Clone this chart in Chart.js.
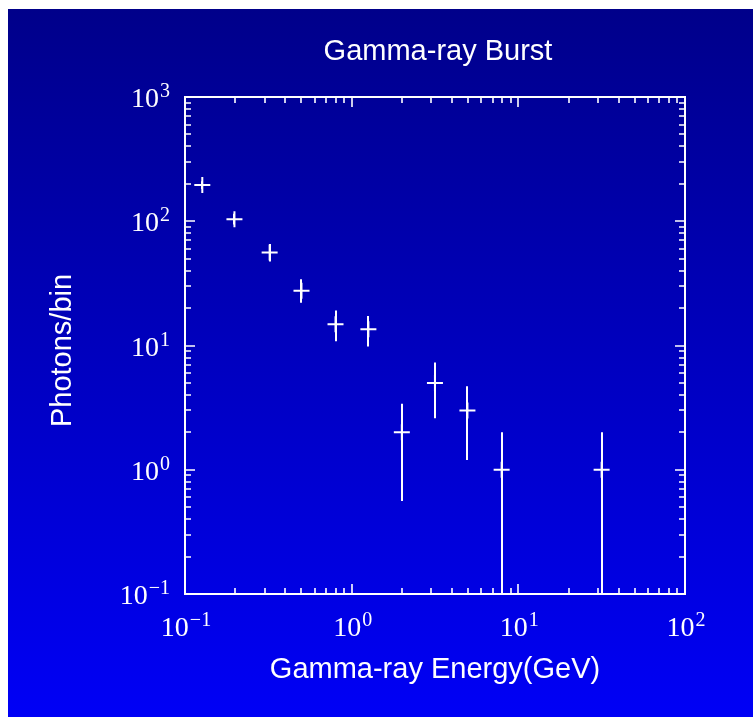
<!DOCTYPE html>
<html>
<head>
<meta charset="utf-8">
<title>Gamma-ray Burst</title>
<script src="https://cdn.jsdelivr.net/npm/chart.js@4.4.1/dist/chart.umd.min.js"></script>
<style>
  html, body { margin: 0; padding: 0; background: #ffffff; overflow: hidden; }
  canvas { display: block; }
</style>
</head>
<body>
<canvas id="c" width="753" height="717"></canvas>
<script>
// Photon counts per energy bin, with the lower / upper ends of each error bar
const energies = [0.127, 0.198, 0.322, 0.5, 0.8, 1.26, 2.0, 3.16, 4.95, 7.94, 31.6];
const photons  = [196, 104, 56, 27.6, 14.8, 13.5, 2.0, 5.0, 3.0, 1.0, 1.0];
const errLow   = [182, 94, 47.5, 22.1, 10.8, 9.8, 0.56, 2.6, 1.2, 0, 0];
const errHigh  = [210, 115, 65.5, 34.1, 19.1, 17.3, 3.4, 7.3, 4.7, 2.0, 2.0];

// Decade tick positions and their exponents (drawn as 10^n)
const xTickValues = [0.1, 1, 10, 100];
const xTickExponents = ['\u22121', '0', '1', '2'];
const yTickValues = [0.1, 1, 10, 100, 1000];
const yTickExponents = ['\u22121', '0', '1', '2', '3'];

const titleText = 'Gamma-ray Burst';
const xTitleText = 'Gamma-ray Energy(GeV)';
const yTitleText = 'Photons/bin';

const W = 753, H = 717;
const FG = '#ffffff';
const SANS = "'Liberation Sans', Arial, sans-serif";
const SERIF = "'Liberation Serif', 'Times New Roman', serif";

function minorValues(lo, hi) {
  const out = [];
  for (let d = lo; d < hi; d *= 10) {
    for (let k = 2; k <= 9; k++) out.push(d * k);
  }
  return out;
}

const backgroundPlugin = {
  id: 'background',
  beforeDraw(chart) {
    const ctx = chart.ctx;
    ctx.save();
    ctx.fillStyle = '#ffffff';
    ctx.fillRect(0, 0, W, H);
    const g = ctx.createLinearGradient(0, 9, 0, H);
    g.addColorStop(0, '#00008a');
    g.addColorStop(1, '#0000f6');
    ctx.fillStyle = g;
    ctx.fillRect(8, 9, W - 8, H - 9);
    ctx.restore();
  }
};

const errorBarPlugin = {
  id: 'errorBars',
  beforeDatasetsDraw(chart) {
    const { ctx, chartArea: a } = chart;
    const xs = chart.scales.x, ys = chart.scales.y;
    ctx.save();
    ctx.beginPath();
    ctx.rect(a.left, a.top, a.right - a.left, a.bottom - a.top);
    ctx.clip();
    ctx.strokeStyle = FG;
    ctx.lineWidth = 2;
    for (let i = 0; i < energies.length; i++) {
      const px = Math.round(xs.getPixelForValue(energies[i]));
      const lo = Math.max(errLow[i], ys.min * 0.5);
      const y1 = ys.getPixelForValue(lo);
      const y2 = ys.getPixelForValue(errHigh[i]);
      ctx.beginPath();
      ctx.moveTo(px, Math.min(y1, a.bottom + 2));
      ctx.lineTo(px, y2);
      ctx.stroke();
    }
    ctx.restore();
  }
};

function drawPower(ctx, exp, x, baseline, align) {
  const baseFont = '28px ' + SERIF;
  const supFont = '20px ' + SERIF;
  ctx.font = baseFont;
  const wb = ctx.measureText('10').width;
  ctx.font = supFont;
  const ws = ctx.measureText(exp).width;
  const total = wb + 1 + ws;
  let sx = align === 'center' ? x - total / 2 : x - total;
  ctx.textAlign = 'left';
  ctx.textBaseline = 'alphabetic';
  ctx.font = baseFont;
  ctx.fillText('10', sx, baseline);
  ctx.font = supFont;
  ctx.fillText(exp, sx + wb + 1, baseline - 10);
}

const framePlugin = {
  id: 'frame',
  afterDraw(chart) {
    const { ctx, chartArea: a } = chart;
    const xs = chart.scales.x, ys = chart.scales.y;
    const MAJ = 10, MIN = 6;
    ctx.save();
    ctx.strokeStyle = FG;
    ctx.fillStyle = FG;
    ctx.lineWidth = 2;
    ctx.strokeRect(a.left, a.top, a.right - a.left, a.bottom - a.top);

    ctx.lineWidth = 1.6;
    ctx.beginPath();
    // x ticks, bottom and mirrored on top, pointing inward
    const xMinor = minorValues(xs.min, xs.max);
    xTickValues.forEach(v => {
      const p = Math.round(xs.getPixelForValue(v));
      ctx.moveTo(p, a.bottom); ctx.lineTo(p, a.bottom - MAJ);
      ctx.moveTo(p, a.top); ctx.lineTo(p, a.top + MAJ);
    });
    xMinor.forEach(v => {
      const p = Math.round(xs.getPixelForValue(v));
      ctx.moveTo(p, a.bottom); ctx.lineTo(p, a.bottom - MIN);
      ctx.moveTo(p, a.top); ctx.lineTo(p, a.top + MIN);
    });
    // y ticks, left and mirrored on right
    const yMinor = minorValues(ys.min, ys.max);
    yTickValues.forEach(v => {
      const p = Math.round(ys.getPixelForValue(v));
      ctx.moveTo(a.left, p); ctx.lineTo(a.left + MAJ, p);
      ctx.moveTo(a.right, p); ctx.lineTo(a.right - MAJ, p);
    });
    yMinor.forEach(v => {
      const p = Math.round(ys.getPixelForValue(v));
      ctx.moveTo(a.left, p); ctx.lineTo(a.left + MIN, p);
      ctx.moveTo(a.right, p); ctx.lineTo(a.right - MIN, p);
    });
    ctx.stroke();

    // tick labels
    xTickValues.forEach((v, i) => {
      const p = xs.getPixelForValue(v);
      drawPower(ctx, xTickExponents[i], p + 1, a.bottom + 42, 'center');
    });
    yTickValues.forEach((v, i) => {
      const p = ys.getPixelForValue(v);
      drawPower(ctx, yTickExponents[i], a.left - 15, p + 10, 'right');
    });

    // titles
    ctx.font = '29px ' + SANS;
    ctx.textAlign = 'center';
    ctx.textBaseline = 'alphabetic';
    ctx.fillText(titleText, (a.left + a.right) / 2 + 3, 60);
    ctx.fillText(xTitleText, (a.left + a.right) / 2, 678);
    ctx.save();
    ctx.translate(71, (a.top + a.bottom) / 2 + 5);
    ctx.rotate(-Math.PI / 2);
    ctx.fillText(yTitleText, 0, 0);
    ctx.restore();
    ctx.restore();
  }
};

new Chart(document.getElementById('c'), {
  type: 'scatter',
  data: {
    datasets: [{
      label: yTitleText,
      data: energies.map((e, i) => ({ x: e, y: photons[i] })),
      pointStyle: 'cross',
      pointRadius: 8,
      pointHoverRadius: 8,
      pointBorderWidth: 2,
      pointHoverBorderWidth: 2,
      borderColor: FG,
      backgroundColor: FG,
      showLine: false
    }]
  },
  options: {
    responsive: false,
    animation: false,
    events: [],
    layout: { padding: { left: 185, right: W - 685, top: 97, bottom: H - 594 } },
    plugins: { legend: { display: false }, tooltip: { enabled: false }, title: { display: false } },
    scales: {
      x: { type: 'logarithmic', min: 0.1, max: 100, display: false },
      y: { type: 'logarithmic', min: 0.1, max: 1000, display: false }
    }
  },
  plugins: [backgroundPlugin, errorBarPlugin, framePlugin]
});
</script>
</body>
</html>
